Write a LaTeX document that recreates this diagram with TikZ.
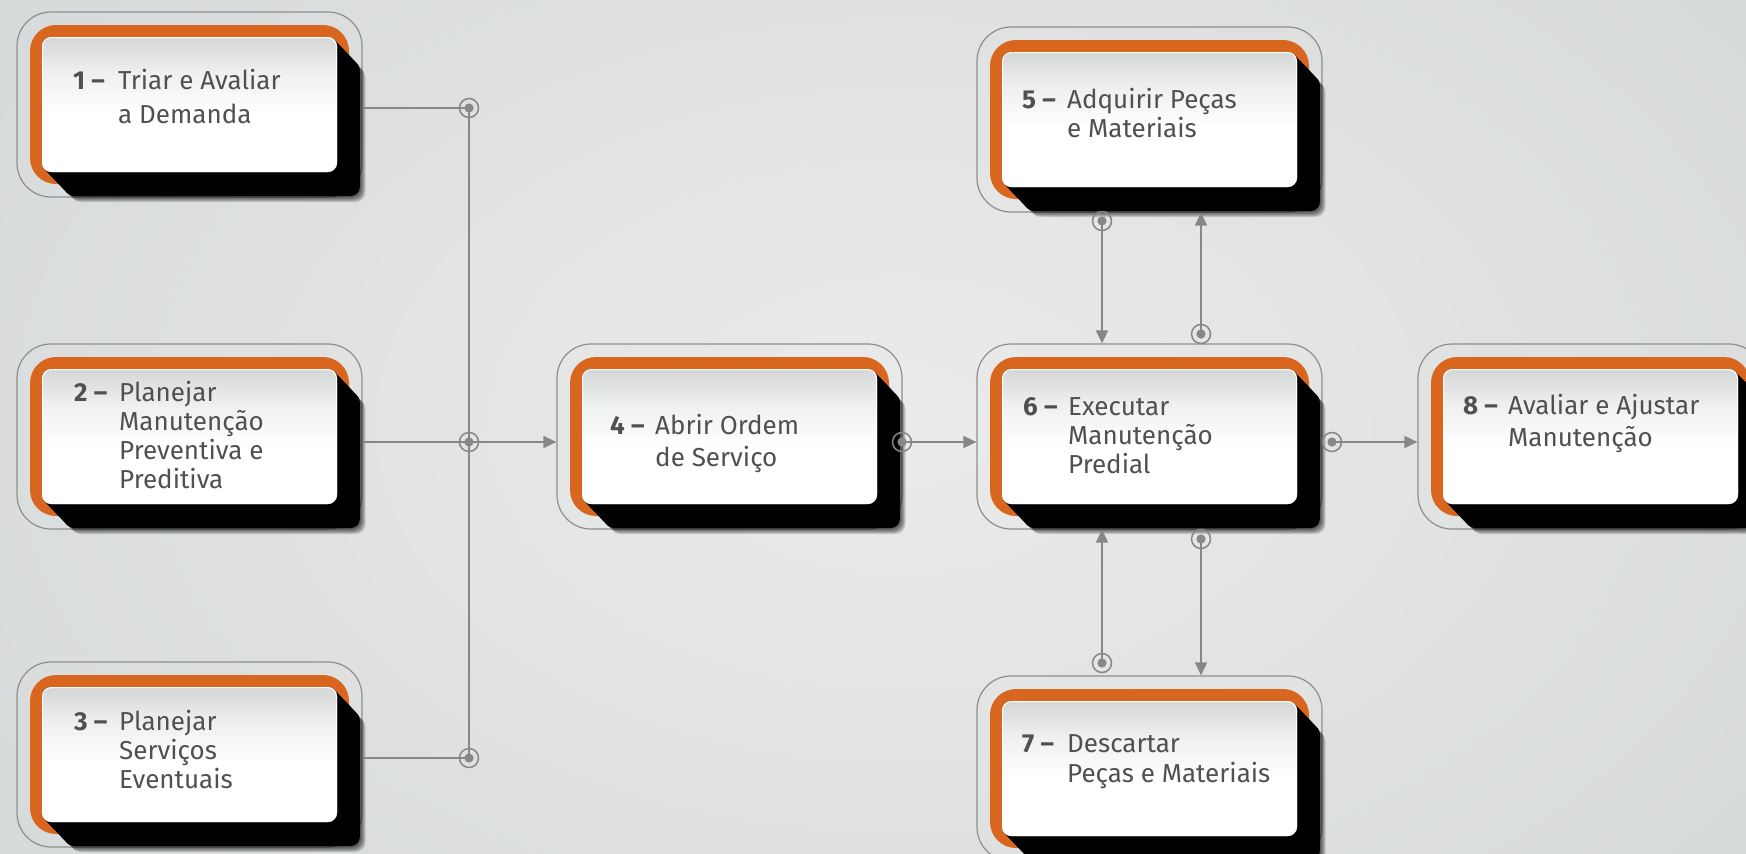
\documentclass[tikz,border=0pt]{standalone}
\usepackage{fontspec}
\setmainfont{Fira Sans}
\usetikzlibrary{arrows.meta}

\definecolor{bgin}{HTML}{EBEBEB}
\definecolor{bgout}{HTML}{D8DBDB}
\definecolor{frameorange}{HTML}{D9661F}
\definecolor{linegray}{HTML}{878787}
\definecolor{rimgray}{HTML}{8E8E8E}
\definecolor{inkgray}{HTML}{505050}
\definecolor{facetop}{HTML}{D5D7D7}
\colorlet{facemid}{facetop!40!white}

% face of each step: grey at the top fading to white
\pgfdeclareverticalshading{facegrad}{100bp}{color(0bp)=(white); color(25bp)=(white); color(47bp)=(white); color(62bp)=(facemid); color(75bp)=(facetop); color(100bp)=(facetop)}

\newcommand\numcell[1]{\makebox[45pt][l]{\bfseries #1 –}}

% #1 name, #2/#3 top-left corner of the frame, #4/#5 first baseline of the text,
% #6 line spacing, #7 tabular rows
\newcommand\procbox[7]{%
  \begin{scope}[shift={(#2,#3)}]
    \node[outerframe] (#1) at (172.5,92.5) {};
    \fill[frameorange, rounded corners=26pt] (13,13) rectangle (332,172);
    % soft rim of the long shadow
    \foreach \k in {25,...,30}{%
      \fill[black, opacity=0.14, rounded corners=10pt] ({25+0.95*\k},{25+\k}) rectangle ({320+0.95*\k},{160+\k});}
    % solid long shadow
    \foreach \k in {0,...,24}{%
      \fill[black, rounded corners=9pt] ({25+0.95*\k},{25+\k}) rectangle ({320+0.95*\k},{160+\k});}
    \shade[shading=facegrad, rounded corners=9pt] (25,25) rectangle (320,160);
    \draw[white, line width=1pt, rounded corners=9pt] (25.5,25.5) rectangle (319.5,159.5);
  \end{scope}
  \node[boxlabel] (#1-text) at (#4,#5)
    {\fontsize{26pt}{#6}\selectfont\begin{tabular}[t]{@{}l@{}l@{}}#7\end{tabular}};
}

\begin{document}
\begin{tikzpicture}[x=1pt, y=-1pt,
  outerframe/.style={draw=rimgray, line width=1.2pt, rounded corners=34pt,
    minimum width=345pt, minimum height=185pt, inner sep=0pt},
  ring/.style={circle, draw=linegray, line width=1.5pt, minimum size=19pt, inner sep=0pt,
    path picture={\fill[linegray] (path picture bounding box.center) circle (4.6pt);}},
  conn/.style={draw=linegray, line width=1.7pt},
  arrowed/.style={-{Triangle[length=13pt,width=12pt]}},
  boxlabel/.style={anchor=base west, inner sep=0pt, text=inkgray}]

\useasboundingbox (0,0) rectangle (1746,854);
\clip (0,0) rectangle (1746,854);
\shade[inner color=bgin, outer color=bgout] (-150,-250) rectangle (1950,1100);

% steps
\procbox{b1}{17}{12}{73}{89}{34pt}{\numcell{1} & Triar e Avaliar\\ & a Demanda}
\procbox{b2}{17}{344}{74}{401}{29pt}{\numcell{2} & Planejar\\ & Manutenção\\ & Preventiva e\\ & Preditiva}
\procbox{b3}{17}{662}{74}{730}{29pt}{\numcell{3} & Planejar\\ & Serviços\\ & Eventuais}
\procbox{b4}{557}{344}{610}{434}{32pt}{\numcell{4} & Abrir Ordem\\ & de Serviço}
\procbox{b5}{977}{27}{1022}{108}{29pt}{\numcell{5} & Adquirir Peças\\ & e Materiais}
\procbox{b6}{977}{344}{1023}{415}{29pt}{\numcell{6} & Executar\\ & Manutenção\\ & Predial}
\procbox{b7}{977}{676}{1022}{752}{30pt}{\numcell{7} & Descartar\\ & Peças e Materiais}
\procbox{b8}{1418}{344}{1463}{414}{32pt}{\numcell{8} & Avaliar e Ajustar\\ & Manutenção}

% junction rings
\node[ring] (c1) at (469,108) {};
\node[ring] (c2) at (469,442) {};
\node[ring] (c3) at (469,758) {};
\node[ring] (c4) at (902,442) {};
\node[ring] (c6r) at (1332,442) {};
\node[ring] (c5d) at (1102,221) {};
\node[ring] (c6u) at (1201,334) {};
\node[ring] (c6d) at (1201,539) {};
\node[ring] (c7u) at (1102,663) {};

% connectors
\draw[conn] (b1.east |- c1) -- (c1.center);
\draw[conn] (b2.east |- c2) -- (c2.center);
\draw[conn] (b3.east |- c3) -- (c3.center);
\draw[conn] (c1.center) -- (c3.center);
\draw[conn, arrowed] (c2.center) -- (b4.west |- c2);
\draw[conn, arrowed] (c4.center) -- (b6.west |- c4);
\draw[conn, arrowed] (c6r.center) -- (b8.west |- c6r);
\draw[conn, arrowed] (c5d.center) -- (b6.north -| c5d);
\draw[conn, arrowed] (c6u.center) -- (b5.south -| c6u);
\draw[conn, arrowed] (c6d.center) -- (b7.north -| c6d);
\draw[conn, arrowed] (c7u.center) -- (b6.south -| c7u);
\end{tikzpicture}
\end{document}
